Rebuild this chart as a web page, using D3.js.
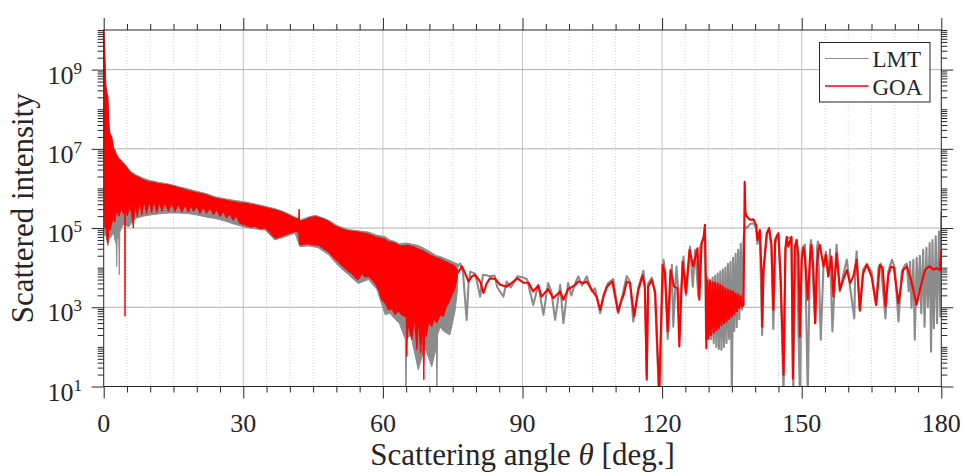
<!DOCTYPE html>
<html>
<head>
<meta charset="utf-8">
<script src="https://cdn.jsdelivr.net/npm/d3@7"></script>
<style>
body { margin: 0; background: #fff; }
svg text { font-family: "Liberation Serif", "Times New Roman", serif; fill: #262626; }
</style>
</head>
<body>
<script>
var width = 964,
    height = 473;

// x ticks (deg) and labelled decades of the log axis
var xMajor = [0, 30, 60, 90, 120, 150, 180];
var yLabelExp = [1, 3, 5, 7, 9];
var seriesNames = ["LMT", "GOA"];

// dense part of the curves, read as envelopes: [angle, log10 upper, log10 lower]
var lmtBand = [
    [0, 10.1, 9.4], [0.1, 9.9, 6.0], [0.25, 9.4, 4.8], [0.45, 8.65, 4.9], [0.65, 8.45, 4.7],
    [0.9, 8.35, 4.55], [1.1, 7.7, 4.7], [1.35, 7.4, 4.75], [1.7, 7.35, 4.8], [2.1, 7.05, 4.9],
    [2.4, 7.0, 4.7], [2.7, 6.9, 4.6], [2.79, 6.88, 4.03], [2.9, 6.86, 4.8], [3.25, 6.78, 4.7],
    [3.36, 6.76, 3.82], [3.46, 6.75, 4.9], [3.8, 6.72, 5.0], [4.3, 6.65, 5.1], [5.0, 6.55, 5.05],
    [5.5, 6.47, 5.04], [6.0, 6.42, 5.15], [7.0, 6.34, 5.25], [8.5, 6.26, 5.3], [10.0, 6.2, 5.33],
    [12.0, 6.15, 5.36], [14.0, 6.11, 5.38], [16.0, 6.05, 5.38], [18.0, 5.99, 5.37], [20.0, 5.93, 5.33],
    [22.0, 5.87, 5.28], [24.0, 5.79, 5.24], [26.0, 5.74, 5.18], [28.0, 5.7, 5.1], [30.4, 5.66, 5.02],
    [32.5, 5.61, 4.98], [34.7, 5.55, 4.95], [36.8, 5.49, 4.7], [39.0, 5.4, 4.78], [41.1, 5.28, 4.87],
    [42.2, 5.2, 4.53], [44.0, 5.28, 4.55], [45.4, 5.32, 4.52], [46.1, 5.3, 4.5], [48.3, 5.2, 4.33],
    [50.4, 5.05, 4.05], [52.6, 4.96, 3.82], [54.7, 4.93, 3.6], [56.9, 4.9, 3.7], [58.7, 4.82, 3.45],
    [60.5, 4.78, 2.81], [61.5, 4.7, 2.85], [62.6, 4.66, 2.7], [63.5, 4.6, 2.6], [64.8, 4.62, 2.2],
    [64.95, 4.62, 0.8], [65.1, 4.62, 2.2], [66.0, 4.6, 2.3], [67.6, 4.56, 1.42], [69.0, 4.48, 2.0],
    [70.5, 4.38, 1.5], [71.5, 4.3, 2.0], [71.6, 4.3, 0.8], [71.75, 4.3, 2.3], [72.3, 4.28, 2.5],
    [73.0, 4.25, 2.4], [74.4, 4.18, 2.3], [75.5, 4.12, 2.9], [76.0, 4.1, 3.4]
];

var goaBand = [
    [0, 10.1, 9.5], [0.1, 9.8, 6.2], [0.25, 9.3, 5.0], [0.45, 8.6, 5.1], [0.65, 8.4, 4.78],
    [0.9, 8.3, 4.62], [1.1, 7.6, 5.0], [1.35, 7.35, 4.95], [1.7, 7.3, 5.1], [2.1, 7.0, 5.3],
    [2.4, 6.93, 5.15], [2.8, 6.82, 5.45], [3.3, 6.74, 5.3], [3.8, 6.68, 5.5], [4.3, 6.62, 5.35],
    [4.52, 6.6, 5.55], [4.58, 6.59, 2.77], [4.64, 6.58, 5.55], [5.1, 6.5, 5.3], [5.6, 6.42, 5.6],
    [6.0, 6.38, 5.35], [6.37, 6.35, 5.0], [6.7, 6.32, 5.65], [7.23, 6.3, 5.29], [7.7, 6.27, 5.7],
    [8.2, 6.24, 5.33], [8.7, 6.21, 5.7], [9.2, 6.19, 5.36], [9.75, 6.17, 5.68], [10.3, 6.16, 5.39],
    [10.85, 6.15, 5.68], [11.4, 6.13, 5.39], [11.95, 6.12, 5.66], [12.5, 6.11, 5.42], [13.2, 6.1, 5.64],
    [13.9, 6.09, 5.42], [14.6, 6.07, 5.62], [15.3, 6.05, 5.42], [16.05, 6.02, 5.6], [16.8, 6.0, 5.4],
    [17.5, 5.97, 5.58], [18.2, 5.94, 5.4], [18.75, 5.93, 5.56], [19.3, 5.91, 5.42], [20.0, 5.89, 5.54],
    [20.7, 5.88, 5.37], [21.4, 5.86, 5.52], [22.1, 5.84, 5.37], [22.85, 5.8, 5.5], [23.6, 5.77, 5.33],
    [24.3, 5.75, 5.46], [25.0, 5.73, 5.29], [25.7, 5.72, 5.42], [26.4, 5.7, 5.25], [27.1, 5.68, 5.36],
    [27.8, 5.67, 5.2], [28.5, 5.65, 5.3], [29.2, 5.63, 5.12], [30.4, 5.63, 5.08], [31.5, 5.6, 5.02],
    [32.5, 5.58, 5.04], [33.6, 5.55, 4.98], [34.7, 5.52, 5.0], [35.8, 5.49, 4.88], [36.8, 5.46, 4.74],
    [38.0, 5.42, 4.78], [39.0, 5.37, 4.83], [40.0, 5.31, 4.87], [41.1, 5.25, 4.91], [41.9, 5.24, 4.9],
    [42.0, 5.48, 4.7], [42.1, 5.17, 4.57], [43.3, 5.21, 4.6], [44.0, 5.25, 4.6], [45.4, 5.29, 4.57],
    [46.1, 5.27, 4.57], [47.0, 5.24, 4.5], [47.6, 5.21, 4.45], [48.3, 5.17, 4.4], [49.0, 5.11, 4.3],
    [49.7, 5.05, 4.22], [50.4, 5.02, 4.15], [51.2, 4.98, 4.05], [51.9, 4.95, 3.98], [52.6, 4.93, 3.9],
    [53.3, 4.92, 3.85], [54.0, 4.91, 3.75], [54.7, 4.9, 3.69], [55.5, 4.88, 3.85], [56.2, 4.87, 3.76],
    [56.9, 4.85, 3.78], [57.6, 4.82, 3.7], [58.3, 4.78, 3.6], [58.7, 4.77, 3.52], [59.2, 4.76, 3.4],
    [59.7, 4.74, 3.19], [60.5, 4.72, 3.1], [61.2, 4.66, 2.93], [62.0, 4.64, 2.95], [62.6, 4.62, 2.81],
    [63.3, 4.58, 2.9], [64.0, 4.55, 2.81], [65.0, 4.56, 2.75], [65.15, 4.57, 1.76], [65.3, 4.57, 2.6],
    [66.2, 4.54, 2.18], [66.8, 4.52, 2.7], [67.3, 4.49, 1.93], [67.7, 4.47, 2.7], [68.1, 4.45, 1.84],
    [68.5, 4.43, 2.6], [68.8, 4.42, 1.17], [69.0, 4.4, 2.6], [69.3, 4.38, 2.26], [69.9, 4.34, 2.65],
    [70.5, 4.3, 2.51], [71.0, 4.28, 2.7], [71.6, 4.25, 2.6], [72.3, 4.22, 2.8], [73.0, 4.18, 2.77],
    [73.6, 4.15, 3.0], [74.1, 4.12, 3.1], [74.8, 4.08, 3.3], [75.4, 4.05, 3.44], [76.0, 3.95, 3.75]
];

// resolved part of the curves: [angle, log10 intensity]
var lmtLine = [
    [76.0, 4.0], [76.6, 4.11], [77.2, 3.9], [78.0, 2.68], [78.4, 3.6], [78.8, 3.9], [79.8, 3.85],
    [80.3, 3.6], [80.9, 3.27], [81.5, 3.82], [82.5, 3.8], [83.0, 3.78], [84.0, 3.8], [84.6, 3.5],
    [85.9, 3.27], [86.6, 3.65], [87.5, 3.5], [88.9, 3.78], [90.0, 3.76], [91.0, 3.7], [92.3, 3.06],
    [93.4, 3.56], [94.5, 2.81], [95.5, 3.61], [96.2, 3.4], [97.0, 2.68], [98.1, 3.56], [98.8, 2.6],
    [99.8, 3.61], [100.5, 3.3], [101.3, 3.6], [102.0, 3.78], [102.8, 3.55], [103.8, 3.78], [104.9, 3.4],
    [105.6, 3.48], [106.7, 2.85], [107.4, 3.3], [108.3, 3.6], [109.5, 3.71], [110.6, 2.85], [111.3, 3.2],
    [112.4, 3.79], [113.1, 3.65], [113.8, 2.64], [114.9, 3.5], [116.0, 3.92], [116.3, 3.6], [116.7, 1.3],
    [117.0, 3.6], [117.8, 3.75], [118.5, 3.3], [119.3, 0.8], [120.3, 4.2], [120.7, 3.9], [121.2, 2.2],
    [122.1, 4.07], [122.4, 2.51], [123.1, 4.03], [123.8, 2.94], [124.6, 4.28], [125.2, 3.3], [126.0, 4.53],
    [126.6, 3.52], [127.1, 4.45], [127.8, 3.27], [128.1, 4.49], [128.9, 4.78], [129.2, 4.9], [129.45, 2.2],
    [129.75, 3.75], [130.0, 2.26], [130.3, 3.7], [130.55, 2.2], [130.85, 3.75], [131.1, 2.1], [131.4, 3.8],
    [131.65, 2.0], [131.95, 3.85], [132.2, 1.95], [132.5, 3.9], [132.75, 1.92], [133.05, 3.95], [133.3, 2.0],
    [133.6, 4.0], [133.85, 2.1], [134.15, 4.1], [134.4, 2.2], [134.7, 4.15], [135.0, 0.8], [135.25, 4.25],
    [135.5, 2.4], [135.8, 4.35], [136.05, 2.5], [136.35, 4.45], [136.6, 2.7], [136.9, 4.6], [137.2, 2.94],
    [137.5, 4.7], [137.8, 5.04], [138.2, 5.0], [138.9, 5.1], [139.6, 5.12], [140.2, 5.0], [140.5, 4.6],
    [141.0, 4.9], [141.5, 2.3], [141.8, 3.9], [142.5, 4.85], [143.0, 4.95], [143.5, 4.5], [143.9, 2.45],
    [144.3, 4.6], [145.0, 4.85], [145.5, 3.5], [146.1, 0.8], [146.5, 4.4], [146.8, 4.75], [147.8, 4.75],
    [148.2, 0.8], [148.6, 4.5], [148.9, 4.7], [149.6, 0.8], [150.0, 4.4], [150.4, 4.55], [150.7, 4.58],
    [151.3, 0.8], [151.8, 4.5], [152.0, 4.7], [152.9, 2.6], [153.3, 4.5], [153.5, 4.66], [154.1, 2.18],
    [154.7, 4.1], [155.2, 4.4], [155.7, 3.8], [156.1, 4.46], [156.6, 2.39], [157.5, 4.58], [158.2, 3.4],
    [158.9, 3.8], [159.7, 4.2], [160.4, 3.5], [161.3, 2.72], [161.5, 3.9], [161.8, 4.41], [162.5, 2.9],
    [163.2, 3.95], [164.0, 4.1], [165.0, 3.9], [166.0, 3.06], [166.5, 4.0], [167.0, 4.1], [168.0, 2.72],
    [168.6, 3.9], [169.4, 4.2], [170.0, 4.0], [170.8, 2.64], [171.5, 3.9], [172.2, 4.07], [172.6, 4.1],
    [173.0, 3.4], [173.3, 4.15], [173.6, 2.98], [174.0, 4.2], [174.3, 2.18], [174.7, 4.25], [175.0, 3.2],
    [175.4, 4.3], [175.7, 2.85], [176.1, 4.45], [176.4, 2.51], [176.8, 4.5], [177.1, 3.0], [177.5, 4.62],
    [177.8, 1.88], [178.1, 4.7], [178.4, 2.47], [178.8, 4.79], [179.1, 2.6], [179.5, 4.91], [179.8, 2.77],
    [180.0, 5.42]
];

var goaLine = [
    [76.0, 3.86], [77.0, 4.03], [77.7, 3.85], [78.4, 3.65], [79.1, 3.78], [79.8, 3.82], [80.9, 3.65],
    [81.6, 3.36], [82.3, 3.6], [83.0, 3.73], [84.1, 3.72], [85.2, 3.57], [86.6, 3.52], [87.7, 3.62],
    [88.9, 3.73], [90.2, 3.62], [91.3, 3.62], [92.3, 3.4], [93.4, 3.55], [94.1, 3.27], [95.5, 3.46],
    [96.6, 3.23], [98.1, 3.4], [98.8, 3.19], [99.8, 3.46], [101.3, 3.56], [102.0, 3.65], [103.1, 3.61],
    [103.8, 3.65], [104.9, 3.44], [105.9, 3.27], [106.7, 2.93], [107.4, 3.27], [108.1, 3.5], [108.5, 3.56],
    [109.3, 3.65], [110.5, 2.89], [111.3, 3.19], [111.7, 3.3], [112.4, 3.65], [113.1, 3.61], [114.0, 2.77],
    [114.9, 3.44], [115.8, 3.8], [116.3, 3.5], [116.7, 1.17], [117.0, 3.52], [117.8, 3.69], [118.5, 3.4],
    [119.4, 0.8], [120.1, 4.07], [120.6, 3.86], [121.2, 2.39], [121.8, 3.94], [122.6, 3.52], [123.3, 3.48],
    [123.7, 2.01], [124.4, 4.15], [125.1, 3.36], [125.9, 4.45], [126.7, 4.03], [127.6, 4.49], [128.0, 3.19],
    [128.5, 4.62], [128.9, 4.74], [129.2, 5.08], [129.4, 3.69], [129.5, 1.97], [129.75, 3.68], [130.0, 2.2],
    [130.3, 3.66], [130.55, 2.3], [130.85, 3.64], [131.1, 2.36], [131.4, 3.62], [131.65, 2.42], [131.95, 3.6],
    [132.2, 2.48], [132.5, 3.56], [132.75, 2.55], [133.05, 3.52], [133.3, 2.6], [133.6, 3.48], [133.85, 2.64],
    [134.15, 3.45], [134.4, 2.7], [134.7, 3.42], [134.95, 2.76], [135.25, 3.4], [135.5, 2.82], [135.8, 3.35],
    [136.05, 2.9], [136.35, 3.32], [136.6, 2.98], [136.9, 3.28], [137.2, 3.02], [137.5, 3.05], [137.75, 6.17],
    [137.9, 5.4], [138.2, 5.29], [138.9, 5.21], [139.6, 5.22], [140.2, 5.08], [140.5, 4.7], [141.0, 4.95],
    [141.4, 3.78], [141.5, 2.51], [141.8, 3.94], [142.5, 4.87], [143.0, 5.0], [143.5, 4.6], [143.9, 2.93],
    [144.3, 4.7], [144.6, 4.79], [145.0, 4.87], [145.5, 3.69], [146.1, 1.3], [146.5, 4.5], [146.8, 4.78],
    [147.1, 4.53], [147.8, 4.78], [148.1, 1.2], [148.5, 4.5], [148.9, 4.7], [149.3, 4.3], [149.6, 2.26],
    [150.0, 4.2], [150.4, 4.5], [150.7, 4.28], [151.3, 3.19], [151.8, 4.28], [152.1, 4.58], [152.5, 4.0],
    [152.9, 2.6], [153.3, 4.1], [153.6, 4.45], [153.9, 4.58], [154.7, 4.03], [155.2, 4.32], [155.7, 3.78],
    [156.4, 4.28], [156.8, 3.27], [157.5, 4.36], [158.2, 3.44], [158.9, 3.69], [159.7, 3.94], [160.4, 3.61],
    [161.1, 3.78], [161.8, 4.2], [162.5, 2.93], [163.2, 3.86], [164.0, 4.07], [165.0, 3.78], [166.0, 3.06],
    [166.8, 4.07], [167.4, 4.0], [168.0, 3.02], [168.6, 3.8], [169.2, 4.03], [169.8, 4.0], [170.8, 3.1],
    [171.8, 3.94], [172.6, 4.03], [173.5, 3.69], [174.4, 3.23], [174.7, 3.06], [175.4, 3.44], [176.5, 3.94],
    [177.0, 4.0], [177.6, 4.03], [178.3, 3.95], [179.0, 3.99], [179.7, 3.94], [180.0, 4.45]
];

var plotLeft = 103.7, plotRight = 941.3, plotTop = 30, plotBottom = 386.5;

var x = d3.scaleLinear().domain([0, 180]).range([plotLeft, plotRight]);
var y = d3.scaleLog().domain([1e1, 1e10]).range([plotBottom, plotTop]);

var svg = d3.select("body").append("svg")
    .attr("width", width)
    .attr("height", height)
    .attr("font-family", "'Liberation Serif', 'Times New Roman', serif");

svg.append("defs").append("clipPath").attr("id", "plot-clip")
    .append("rect")
    .attr("x", plotLeft).attr("y", plotTop)
    .attr("width", plotRight - plotLeft).attr("height", plotBottom - plotTop);

// grid: dotted minor verticals, solid majors
var xMinor = d3.range(5, 180, 5).filter(function (d) { return d % 30 != 0; });
svg.append("g").selectAll("line")
    .data(xMinor)
    .enter().append("line")
    .attr("x1", function (d) { return x(d); })
    .attr("x2", function (d) { return x(d); })
    .attr("y1", plotTop).attr("y2", plotBottom)
    .attr("stroke", "#d4d4d4")
    .attr("stroke-dasharray", "1,2");

svg.append("g").selectAll("line")
    .data(xMajor.slice(1, -1))
    .enter().append("line")
    .attr("x1", function (d) { return x(d); })
    .attr("x2", function (d) { return x(d); })
    .attr("y1", plotTop).attr("y2", plotBottom)
    .attr("stroke", "#c4c4c4");

svg.append("g").selectAll("line")
    .data(yLabelExp.slice(1))
    .enter().append("line")
    .attr("x1", plotLeft).attr("x2", plotRight)
    .attr("y1", function (d) { return y(Math.pow(10, d)); })
    .attr("y2", function (d) { return y(Math.pow(10, d)); })
    .attr("stroke", "#b0b0b0");

// data
var band = d3.area()
    .x(function (d) { return x(d[0]); })
    .y0(function (d) { return y(Math.pow(10, d[2])); })
    .y1(function (d) { return y(Math.pow(10, d[1])); });

var line = d3.line()
    .x(function (d) { return x(d[0]); })
    .y(function (d) { return y(Math.pow(10, d[1])); });

var plot = svg.append("g").attr("clip-path", "url(#plot-clip)");

var series = [
    { name: seriesNames[0], color: "#8c8c8c", band: lmtBand, line: lmtLine },
    { name: seriesNames[1], color: "#ff0000", band: goaBand, line: goaLine }
];

series.forEach(function (s) {
    plot.append("path")
        .attr("d", band(s.band))
        .attr("fill", s.color)
        .attr("stroke", s.color)
        .attr("stroke-width", 1)
        .attr("stroke-linejoin", "round");
    plot.append("path")
        .attr("d", line(s.line))
        .attr("fill", "none")
        .attr("stroke", s.color)
        .attr("stroke-width", 2.1)
        .attr("stroke-linejoin", "round");
});

// box
svg.append("rect")
    .attr("x", plotLeft).attr("y", plotTop)
    .attr("width", plotRight - plotLeft).attr("height", plotBottom - plotTop)
    .attr("fill", "none")
    .attr("stroke", "#262626");

// ticks on all four sides, pointing out
function drawTicks(axis, values, size, tx, ty) {
    svg.append("g")
        .attr("transform", "translate(" + tx + "," + ty + ")")
        .call(axis.tickValues(values).tickSize(size).tickSizeOuter(0).tickFormat(""))
        .call(function (g) { g.select(".domain").remove(); })
        .call(function (g) { g.selectAll("line").attr("stroke", "#262626"); });
}

var yMajorVals = yLabelExp.map(function (e) { return Math.pow(10, e); });
var yMinorVals = [];
d3.range(1, 10).forEach(function (k) {
    d3.range(2, 11).forEach(function (m) {
        var v = m * Math.pow(10, k);
        if (yMajorVals.indexOf(v) < 0) yMinorVals.push(v);
    });
});

drawTicks(d3.axisBottom(x), xMajor, 12, 0, plotBottom);
drawTicks(d3.axisBottom(x), xMinor, 6, 0, plotBottom);
drawTicks(d3.axisTop(x), xMajor, 12, 0, plotTop);
drawTicks(d3.axisTop(x), xMinor, 6, 0, plotTop);
drawTicks(d3.axisLeft(y), yMajorVals, 12, plotLeft, 0);
drawTicks(d3.axisLeft(y), yMinorVals, 6, plotLeft, 0);
drawTicks(d3.axisRight(y), yMajorVals, 12, plotRight, 0);
drawTicks(d3.axisRight(y), yMinorVals, 6, plotRight, 0);

// tick labels
svg.append("g").selectAll("text")
    .data(xMajor)
    .enter().append("text")
    .attr("x", function (d) { return x(d); })
    .attr("y", 432)
    .attr("text-anchor", "middle")
    .attr("font-size", 26)
    .text(function (d) { return d; });

var yLab = svg.append("g").selectAll("text")
    .data(yLabelExp)
    .enter().append("text")
    .attr("x", 82)
    .attr("y", function (d) { return y(Math.pow(10, d)) + 14; })
    .attr("text-anchor", "end")
    .attr("font-size", 26);
yLab.append("tspan").text("10");
yLab.append("tspan").attr("dy", -10).attr("font-size", 17).text(function (d) { return d; });

// axis titles
var xTitle = svg.append("text")
    .attr("x", (plotLeft + plotRight) / 2)
    .attr("y", 465)
    .attr("text-anchor", "middle")
    .attr("font-size", 31);
xTitle.append("tspan").text("Scattering angle ");
xTitle.append("tspan").attr("font-style", "italic").text("θ");
xTitle.append("tspan").text(" [deg.]");

svg.append("text")
    .attr("transform", "translate(33," + ((plotTop + plotBottom) / 2) + ") rotate(-90)")
    .attr("text-anchor", "middle")
    .attr("font-size", 31)
    .text("Scattered intensity");

// legend
var legend = svg.append("g");
legend.append("rect")
    .attr("x", 819.5).attr("y", 42.5)
    .attr("width", 110.5).attr("height", 59.5)
    .attr("fill", "#fff")
    .attr("stroke", "#262626");

series.forEach(function (s, i) {
    var ly = 58.5 + i * 27.5;
    legend.append("line")
        .attr("x1", 825).attr("x2", 868.5)
        .attr("y1", ly).attr("y2", ly)
        .attr("stroke", s.color)
        .attr("stroke-width", i == 0 ? 1.2 : 1.5);
    legend.append("text")
        .attr("x", 872.5).attr("y", ly + 8.5)
        .attr("font-size", 23)
        .text(s.name);
});
</script>
</body>
</html>
